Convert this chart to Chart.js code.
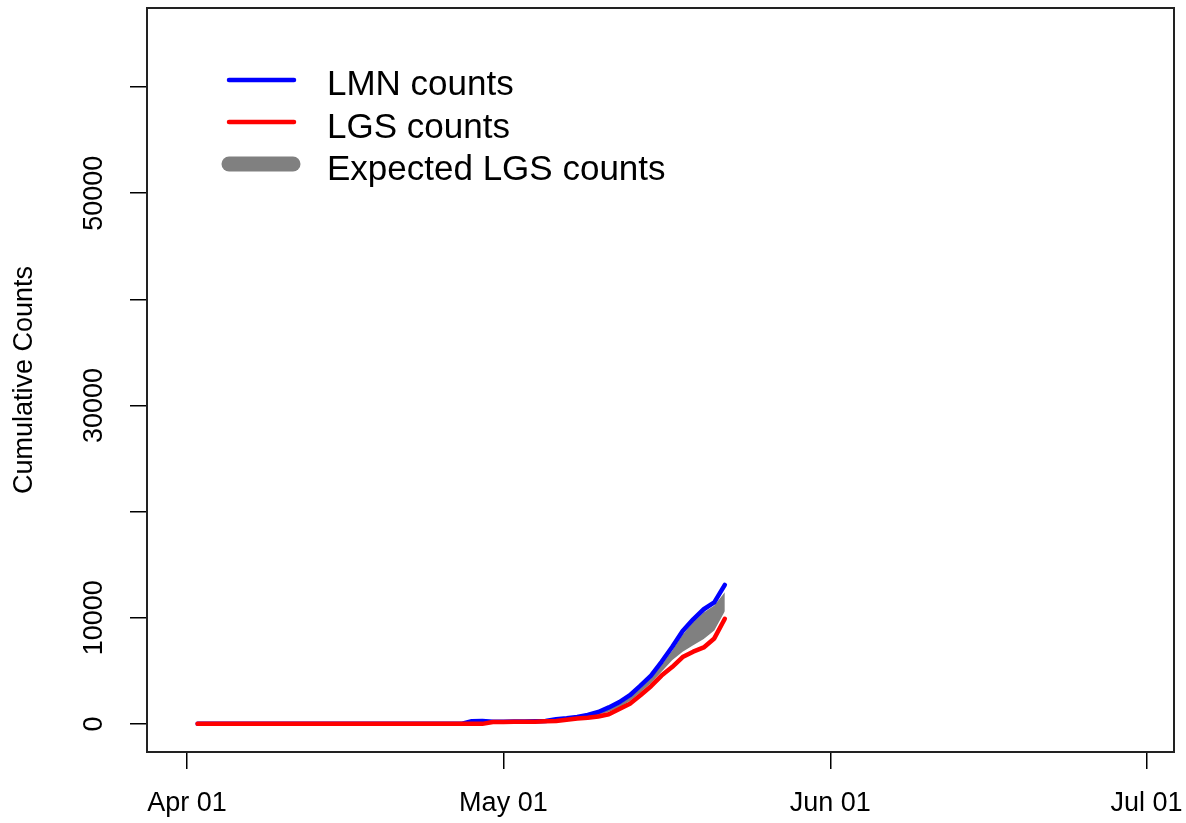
<!DOCTYPE html>
<html>
<head>
<meta charset="utf-8">
<script src="https://cdn.jsdelivr.net/npm/chart.js@4.4.1/dist/chart.umd.min.js"></script>
<style>
  html, body { margin: 0; padding: 0; background: #ffffff; }
  #wrap { width: 1186px; height: 823px; }
</style>
</head>
<body>
<div id="wrap"><canvas id="c" width="1186" height="823"></canvas></div>
<script>
// ---- data ----
const originDate = '2020-04-01';
const dates = [
  '2020-04-02','2020-04-03','2020-04-04','2020-04-05','2020-04-06','2020-04-07','2020-04-08','2020-04-09','2020-04-10','2020-04-11',
  '2020-04-12','2020-04-13','2020-04-14','2020-04-15','2020-04-16','2020-04-17','2020-04-18','2020-04-19','2020-04-20','2020-04-21',
  '2020-04-22','2020-04-23','2020-04-24','2020-04-25','2020-04-26','2020-04-27','2020-04-28','2020-04-29','2020-04-30','2020-05-01',
  '2020-05-02','2020-05-03','2020-05-04','2020-05-05','2020-05-06','2020-05-07','2020-05-08','2020-05-09','2020-05-10','2020-05-11',
  '2020-05-12','2020-05-13','2020-05-14','2020-05-15','2020-05-16','2020-05-17','2020-05-18','2020-05-19','2020-05-20','2020-05-21',
  '2020-05-22'
];
const lmnCounts = [
  0,0,0,0,0,0,0,0,0,0,
  0,0,0,0,0,0,0,0,0,0,
  0,0,0,0,0,0,250,260,200,210,
  220,230,240,270,430,530,660,850,1120,1550,
  2050,2700,3600,4550,5850,7250,8750,9850,10800,11450,
  13100
];
const lgsCounts = [
  0,0,0,0,0,0,0,0,0,0,
  0,0,0,0,0,0,0,0,0,0,
  0,0,0,0,0,0,0,0,170,180,
  190,200,210,240,280,380,500,580,700,900,
  1400,1900,2700,3550,4550,5350,6300,6800,7200,8050,
  9900
];
const expectedUpper = [
  0,0,0,0,0,0,0,0,0,0,
  0,0,0,0,0,0,0,0,0,0,
  0,0,0,0,0,0,0,0,190,200,
  210,220,230,260,360,460,590,760,1000,1380,
  1850,2500,3350,4300,5550,6900,8400,9600,10500,11150,
  12400
];
const expectedLower = [
  0,0,0,0,0,0,0,0,0,0,
  0,0,0,0,0,0,0,0,0,0,
  0,0,0,0,0,0,0,0,170,180,
  190,200,210,240,300,400,520,650,850,1150,
  1550,2150,2950,3850,4900,6000,6800,7400,8000,8800,
  10600
];
const xTickDates = ['2020-04-01','2020-05-01','2020-06-01','2020-07-01'];
const xTickLabels = ['Apr 01','May 01','Jun 01','Jul 01'];
const yTickValues = [0,10000,20000,30000,40000,50000,60000];
const yTickLabels = ['0','10000','','30000','','50000',''];
const legendLabels = ['LMN counts','LGS counts','Expected LGS counts'];
const yTitle = 'Cumulative Counts';

// ---- helpers ----
const DAY = 86400000;
const dayOf = d => (Date.parse(d + 'T00:00:00Z') - Date.parse(originDate + 'T00:00:00Z')) / DAY;
const pts = arr => arr.map((v, i) => ({ x: dayOf(dates[i]), y: v }));
const xTickVals = xTickDates.map(dayOf);
const FONT = '"Liberation Sans", Arial, Helvetica, sans-serif';

const rPlugin = {
  id: 'rstyle',
  afterDraw(chart) {
    const ctx = chart.ctx;
    const a = chart.chartArea;
    const ys = chart.scales.y;
    ctx.save();
    // box
    ctx.strokeStyle = '#222';
    ctx.lineWidth = 2;
    ctx.strokeRect(a.left, a.top, a.right - a.left, a.bottom - a.top);
    // y tick labels (rotated like R)
    ctx.fillStyle = '#000';
    ctx.font = '27px ' + FONT;
    ctx.textAlign = 'center';
    ctx.textBaseline = 'middle';
    yTickValues.forEach((v, i) => {
      if (!yTickLabels[i]) return;
      const py = ys.getPixelForValue(v);
      ctx.save();
      ctx.translate(95, py);
      ctx.rotate(-Math.PI / 2);
      ctx.fillText(yTickLabels[i], 0, 0);
      ctx.restore();
    });
    // y title
    ctx.save();
    ctx.translate(25, (a.top + a.bottom) / 2);
    ctx.rotate(-Math.PI / 2);
    ctx.fillText(yTitle, 0, 0);
    ctx.restore();
    // legend
    const items = [
      { color: '#0000ff', w: 4.5, x1: 229, x2: 294, y: 80 },
      { color: '#ff0000', w: 4.5, x1: 229, x2: 294, y: 122 },
      { color: '#808080', w: 15, x1: 229, x2: 293, y: 164 }
    ];
    ctx.lineCap = 'round';
    items.forEach((it, i) => {
      ctx.strokeStyle = it.color;
      ctx.lineWidth = it.w;
      ctx.beginPath();
      ctx.moveTo(it.x1, it.y);
      ctx.lineTo(it.x2, it.y);
      ctx.stroke();
    });
    ctx.fillStyle = '#000';
    ctx.font = '35px ' + FONT;
    ctx.textAlign = 'left';
    ctx.textBaseline = 'alphabetic';
    const baselines = [95, 137.5, 180];
    legendLabels.forEach((t, i) => ctx.fillText(t, 327, baselines[i]));
    ctx.restore();
  }
};

new Chart(document.getElementById('c'), {
  type: 'line',
  data: {
    datasets: [
      { label: legendLabels[1], data: pts(lgsCounts), borderColor: '#ff0000', borderWidth: 4.5,
        pointRadius: 0, fill: false, order: 0, tension: 0, borderCapStyle: 'round', borderJoinStyle: 'round' },
      { label: legendLabels[0], data: pts(lmnCounts), borderColor: '#0000ff', borderWidth: 4.5,
        pointRadius: 0, fill: false, order: 1, tension: 0, borderCapStyle: 'round', borderJoinStyle: 'round' },
      { label: 'upper', data: pts(expectedUpper), borderWidth: 0, borderColor: 'rgba(0,0,0,0)',
        backgroundColor: '#808080', pointRadius: 0, fill: { target: 3 }, order: 2, tension: 0 },
      { label: 'lower', data: pts(expectedLower), borderWidth: 0, borderColor: 'rgba(0,0,0,0)',
        pointRadius: 0, fill: false, order: 3, tension: 0 }
    ]
  },
  options: {
    responsive: false,
    animation: false,
    devicePixelRatio: 1,
    layout: { padding: { top: 8, right: 12, left: 0, bottom: 0 } },
    plugins: { legend: { display: false }, tooltip: { enabled: false }, filler: { propagate: false } },
    scales: {
      x: {
        type: 'linear',
        min: -3.8, max: 93.6,
        afterBuildTicks: s => { s.ticks = xTickVals.map(v => ({ value: v })); },
        afterFit: s => { s.height = 71; s.paddingLeft = 0; s.paddingRight = 0; },
        ticks: {
          autoSkip: false, maxRotation: 0, minRotation: 0, padding: 18, color: '#000',
          font: { family: FONT, size: 27 },
          callback: (v, i) => xTickLabels[i]
        },
        grid: { drawOnChartArea: false, drawTicks: true, tickLength: 17, color: '#000', lineWidth: 1.5 },
        border: { display: false }
      },
      y: {
        type: 'linear',
        min: -2650, max: 67450,
        afterBuildTicks: s => { s.ticks = yTickValues.map(v => ({ value: v })); },
        afterFit: s => { s.width = 147; s.paddingTop = 0; s.paddingBottom = 0; },
        ticks: { display: false },
        grid: { drawOnChartArea: false, drawTicks: true, tickLength: 17, color: '#000', lineWidth: 1.5 },
        border: { display: false }
      }
    }
  },
  plugins: [rPlugin]
});
</script>
</body>
</html>
